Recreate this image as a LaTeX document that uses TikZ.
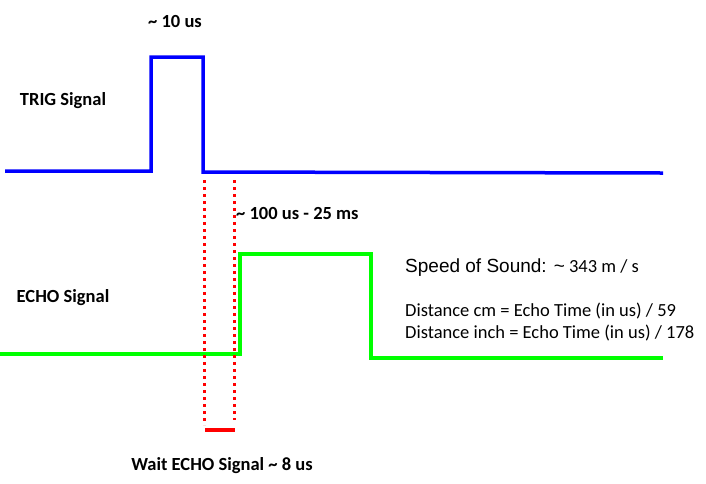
\documentclass[tikz,border=0pt]{standalone}
\usepackage{fontspec}
\setmainfont{Carlito}
\newfontfamily\arialfont{Liberation Sans}
\usepackage{tikz}
\usepackage{xcolor}
\definecolor{trigblue}{RGB}{0,0,255}
\definecolor{echogreen}{RGB}{0,255,0}
\definecolor{waitred}{RGB}{255,0,0}

\begin{document}
\begin{tikzpicture}[x=1pt,y=-1pt]
\useasboundingbox (0,0) rectangle (706,483);
\tikzset{sig label/.style={font=\fontsize{18.5}{20}\selectfont\bfseries,inner sep=0pt},
  info label/.style={font=\fontsize{18.5}{20}\selectfont,inner sep=0pt,anchor=west}}
% trigger pulse
\draw[line width=3.5pt,trigblue] (5,171) -- (151,171) -- (151,57) -- (203,57) -- (203,172) -- (663,173);
% echo pulse
\draw[line width=3.5pt,echogreen] (0,354) -- (240,354) -- (240,254) -- (371,254) -- (371,358) -- (663,358);
% wait window
\draw[line width=3pt,waitred,dash pattern=on 3pt off 4pt] (204,180) -- (204,425);
\draw[line width=3pt,waitred,dash pattern=on 3pt off 4pt] (234,180) -- (234,420);
\draw[line width=3.5pt,waitred] (205,430) -- (235,430);
% labels
\node[sig label] (pulse) at (175,21) {\textasciitilde{} 10 us};
\node[sig label] (trig) at (63,101) {TRIG Signal};
\node[sig label] (echo) at (63,298) {ECHO Signal};
\node[sig label,anchor=west] (delay) at (236,213) {\textasciitilde{} 100 us - 25 ms};
\node[sig label] (wait) at (222,466) {Wait ECHO Signal \textasciitilde{} 8 us};
\node[info label] (speed) at (405,268) {{\arialfont\fontsize{19}{21}\selectfont Speed of Sound: \textasciitilde} 343 m / s};
\node[info label] (cm) at (405,311) {Distance cm = Echo Time (in us) / 59};
\node[info label] (inch) at (405,333) {Distance inch = Echo Time (in us) / 178};
\end{tikzpicture}
\end{document}
